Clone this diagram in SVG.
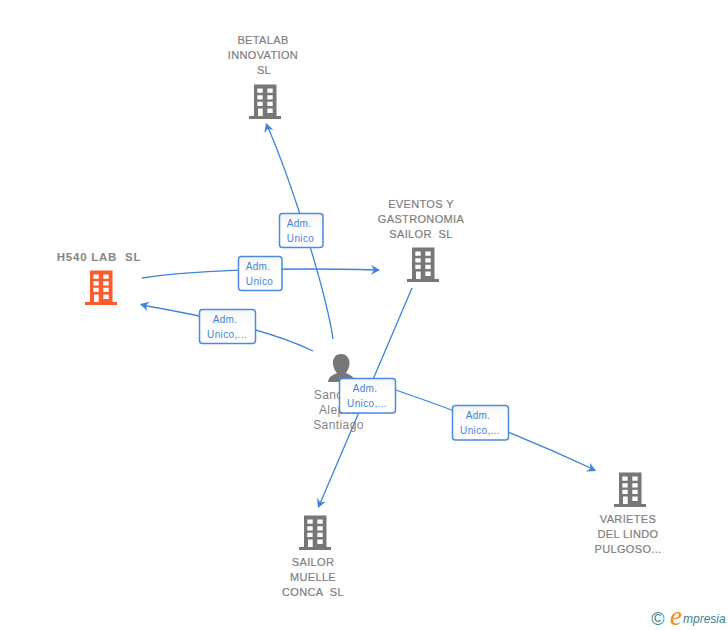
<svg xmlns="http://www.w3.org/2000/svg" width="728" height="630" viewBox="0 0 728 630">
<style>
.c{fill:none;stroke:#3f83e0;stroke-width:1.3}
.a{fill:#3f83e0;stroke:none}
.n{font:11px "Liberation Sans",Arial,sans-serif;fill:#808080;text-anchor:middle;letter-spacing:.35px;stroke:#808080;stroke-width:.2px}
.h{font:bold 11.500px "Liberation Sans",Arial,sans-serif;fill:#868686;text-anchor:middle;letter-spacing:.75px}
.p{font:12px "Liberation Sans",Arial,sans-serif;fill:#848484;text-anchor:middle;letter-spacing:.4px}
.b{fill:url(#bg);stroke:#4a8ae2;stroke-width:1.500}
.l{font:10px "Liberation Sans",Arial,sans-serif;fill:#3f83e0;text-anchor:middle;letter-spacing:.35px}
.e{fill:#777}
.o{fill:#ff5a2b}
</style>
<defs>
<linearGradient id="bg" x1="0" y1="0" x2="0" y2="1"><stop offset="0" stop-color="#f6f6f6"/><stop offset=".5" stop-color="#fff"/></linearGradient>
<path id="bld" fill-rule="evenodd" d="M-11-16.500H11.500V15H16V18H-16V15H-11ZM-7.700-12.500V-8.200H-2.300V-12.500ZM2.300-12.500V-8.200H7.700V-12.500ZM-7.700-5.800V-1.500H-2.300V-5.800ZM2.300-5.800V-1.500H7.700V-5.800ZM-7.700 .8V5H-2.300V.8ZM2.300 .8V5H7.700V.8ZM-7 7.500V15H-2.300V7.500ZM2.300 7.500V12H7.700V7.500Z"/>
<path id="ah" d="M0 0L-9-4.800-6 0-9 4.800Z"/>
</defs>
<g id="connectors">
<path class="c" d="M333 339C327 297 295 190 267 125"/>
<use href="#ah" class="a" transform="translate(266 123) rotate(-109)"/>
<path class="c" d="M142 278C210 268 300 268 378 270"/>
<use href="#ah" class="a" transform="translate(380 270) rotate(1)"/>
<path class="c" d="M313 351C270 330 200 315 141 305"/>
<use href="#ah" class="a" transform="translate(140 304) rotate(-165)"/>
<path class="c" d="M412 288L319 506"/>
<use href="#ah" class="a" transform="translate(318 508) rotate(113)"/>
<path class="c" d="M390 388C440 405 520 435 595 470"/>
<use href="#ah" class="a" transform="translate(596 471) rotate(25)"/>
</g>
<g id="node-betalab">
<text class="n"><tspan x="263" y="44">BETALAB</tspan><tspan x="263" y="59">INNOVATION</tspan><tspan x="264" y="74">SL</tspan></text>
<use href="#bld" class="e" x="265" y="101"/>
</g>
<g id="node-h540">
<text class="h" x="99" y="261" xml:space="preserve">H540 LAB  SL</text>
<use href="#bld" class="o" x="101" y="287"/>
</g>
<g id="node-eventos">
<text class="n" xml:space="preserve"><tspan x="421" y="208">EVENTOS Y</tspan><tspan x="421" y="223">GASTRONOMIA</tspan><tspan x="421" y="238">SAILOR  SL</tspan></text>
<use href="#bld" class="e" x="423" y="264"/>
</g>
<g id="node-sailor">
<use href="#bld" class="e" x="315" y="532"/>
<text class="n" xml:space="preserve"><tspan x="313" y="566">SAILOR</tspan><tspan x="313" y="581">MUELLE</tspan><tspan x="313" y="596">CONCA  SL</tspan></text>
</g>
<g id="node-varietes">
<use href="#bld" class="e" x="630" y="489"/>
<text class="n"><tspan x="628" y="523">VARIETES</tspan><tspan x="628" y="538">DEL LINDO</tspan><tspan x="628" y="553">PULGOSO...</tspan></text>
</g>
<g id="node-person">
<path class="e" d="M341 354C347 354 350 359 349.500 364C349 368 347.500 371 346 373C350 375 354 376 355 382H328C329 376 333 375 337 373C335 371 333.500 368 333 364C332.500 359 335 354 341 354Z"/>
<text class="p"><tspan x="338.500" y="399">Sanchez</tspan><tspan x="338.500" y="414">Alepuz</tspan><tspan x="338.500" y="429">Santiago</tspan></text>
</g>
<g id="label-1"><rect class="b" x="279.500" y="213.500" width="43.500" height="34" rx="3"/><text class="l"><tspan x="299" y="227">Adm.</tspan><tspan x="300.500" y="242">Unico</tspan></text></g>
<g id="label-2"><rect class="b" x="238.500" y="256.500" width="43.500" height="34" rx="3"/><text class="l"><tspan x="258" y="270">Adm.</tspan><tspan x="259.500" y="285">Unico</tspan></text></g>
<g id="label-3"><rect class="b" x="199.500" y="309.500" width="56" height="34" rx="3"/><text class="l"><tspan x="225" y="323">Adm.</tspan><tspan x="227" y="338">Unico,...</tspan></text></g>
<g id="label-4"><rect class="b" x="339.500" y="378.500" width="56" height="34.500" rx="3"/><text class="l"><tspan x="365" y="392">Adm.</tspan><tspan x="367" y="407">Unico,...</tspan></text></g>
<g id="label-5"><rect class="b" x="452.500" y="405.500" width="56" height="34.500" rx="3"/><text class="l"><tspan x="478" y="419">Adm.</tspan><tspan x="480" y="434">Unico,...</tspan></text></g>
<g id="logo">
<text x="658" y="625" font-family="Liberation Sans,sans-serif" font-size="18" fill="#3f7f93" text-anchor="middle">©</text>
<text x="670" y="625" font-family="Liberation Serif,serif" font-style="italic" font-size="27" fill="#f08a1d">e</text>
<text x="683" y="623" font-family="Liberation Sans,sans-serif" font-style="italic" font-size="12" fill="#3f7f93">mpresia</text>
</g>
</svg>
